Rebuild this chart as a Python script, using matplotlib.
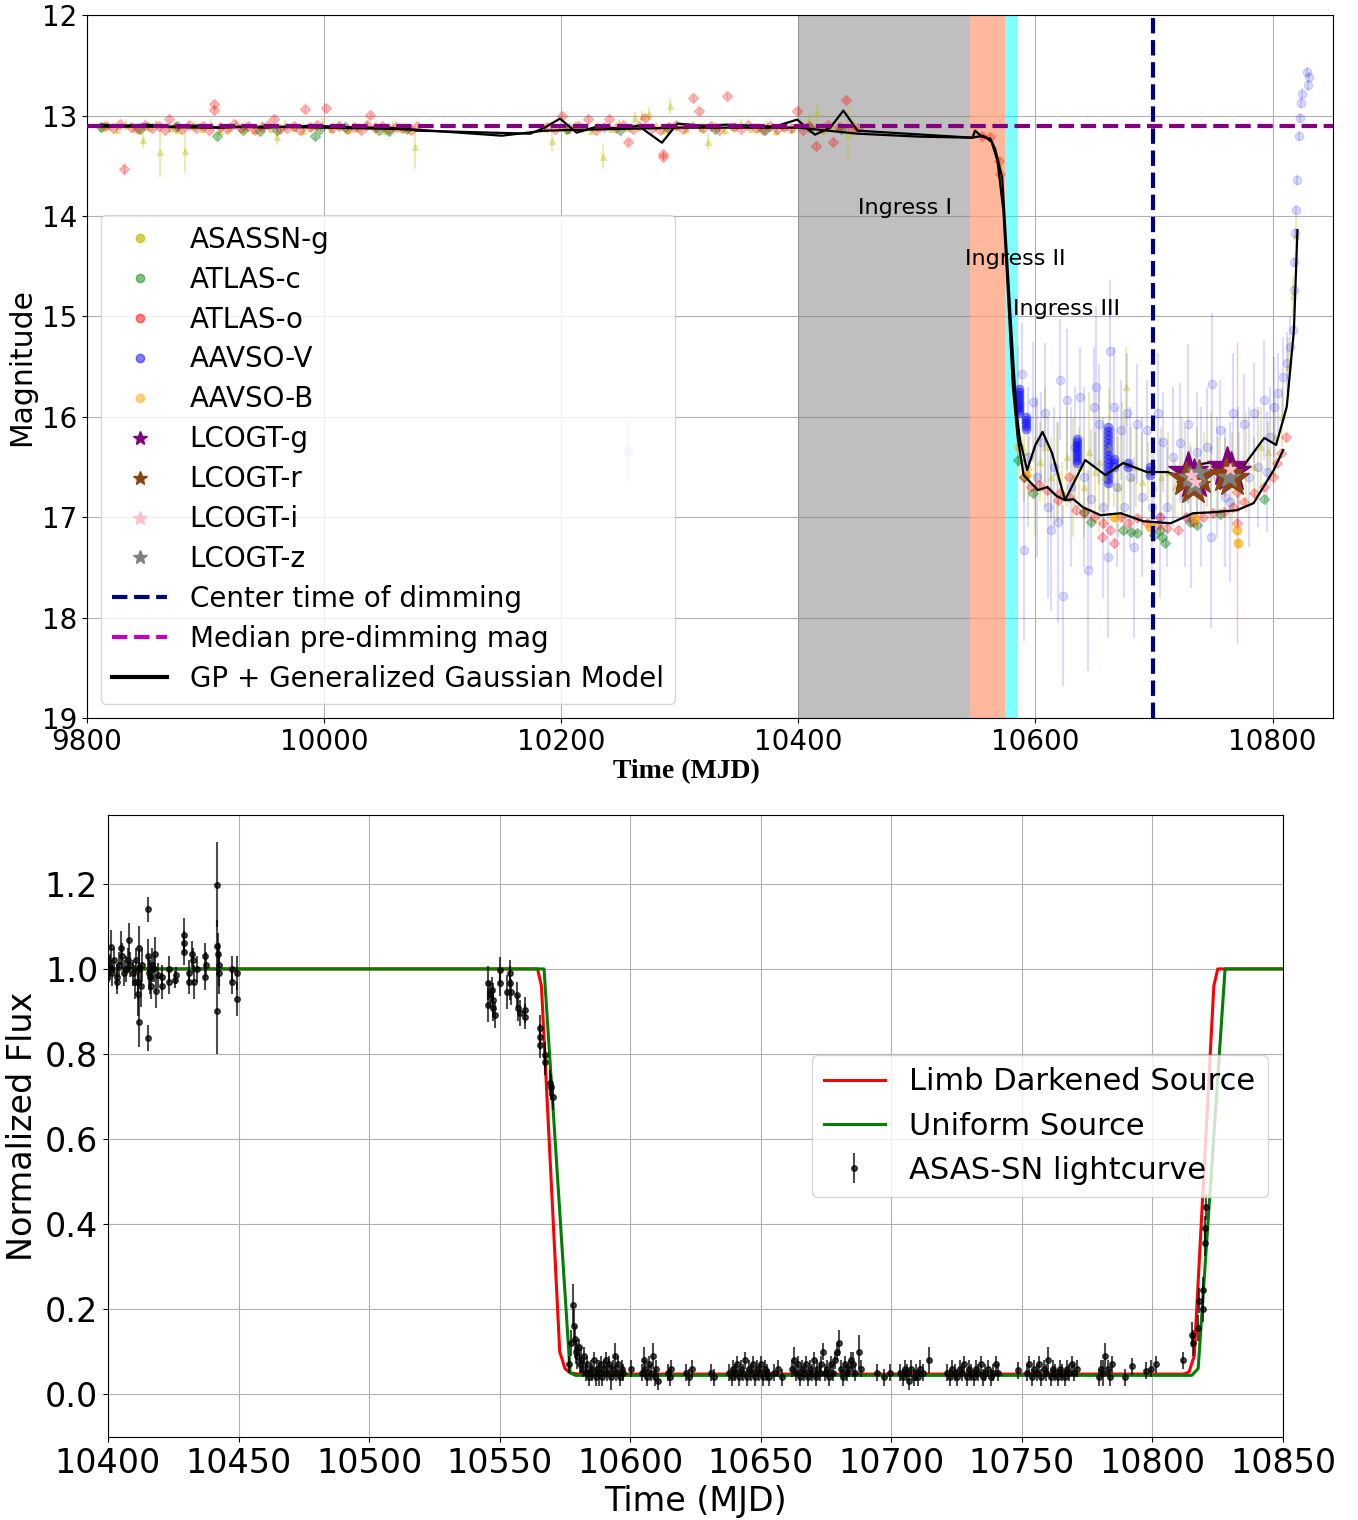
import numpy as np
import matplotlib.pyplot as plt
from matplotlib.lines import Line2D

# ---------------- top panel: photometry (MJD, mag, err) ----------------
asassn_g = [
    (9812, 13.12, 0.04), (9818, 13.10, 0.05), (9825, 13.14, 0.04), (9833, 13.09, 0.06), (9840, 13.13, 0.04),
    (9847, 13.24, 0.08), (9852, 13.11, 0.05), (9858, 13.08, 0.04), (9862, 13.36, 0.25), (9870, 13.12, 0.05),
    (9877, 13.14, 0.04), (9883, 13.35, 0.22), (9890, 13.10, 0.05), (9897, 13.13, 0.04), (9905, 13.09, 0.06),
    (9912, 13.15, 0.04), (9920, 13.12, 0.05), (9926, 13.08, 0.04), (9933, 13.11, 0.06), (9941, 13.14, 0.04),
    (9948, 13.10, 0.05), (9955, 13.13, 0.04), (9960, 13.21, 0.08), (9967, 13.09, 0.05), (9975, 13.12, 0.04),
    (9982, 13.15, 0.05), (9990, 13.11, 0.04), (9998, 13.08, 0.06), (10006, 13.13, 0.04), (10013, 13.10, 0.05),
    (10021, 13.14, 0.04), (10029, 13.12, 0.05), (10036, 13.09, 0.04), (10044, 13.11, 0.06), (10051, 13.15, 0.04),
    (10058, 13.10, 0.05), (10065, 13.13, 0.04), (10071, 13.12, 0.05), (10077, 13.31, 0.22),
    (10186, 13.12, 0.05), (10192, 13.25, 0.10), (10199, 13.10, 0.04), (10205, 13.14, 0.05), (10212, 13.09, 0.04),
    (10218, 13.12, 0.05), (10225, 13.15, 0.04), (10231, 13.11, 0.05), (10235, 13.41, 0.12), (10242, 13.13, 0.04),
    (10249, 13.08, 0.05), (10256, 13.12, 0.04), (10262, 13.02, 0.06), (10268, 13.00, 0.05), (10274, 12.98, 0.06),
    (10280, 13.10, 0.04), (10287, 13.14, 0.05), (10292, 12.90, 0.08), (10298, 13.11, 0.04), (10305, 13.13, 0.05),
    (10311, 13.09, 0.04), (10318, 13.12, 0.05), (10324, 13.26, 0.08), (10331, 13.10, 0.04), (10338, 13.14, 0.05),
    (10345, 13.11, 0.04), (10352, 13.08, 0.05), (10360, 13.13, 0.04), (10367, 13.12, 0.05), (10374, 13.10, 0.04),
    (10381, 13.15, 0.05), (10388, 13.11, 0.04), (10395, 13.13, 0.05), (10402, 13.09, 0.06), (10409, 13.05, 0.08),
    (10416, 12.97, 0.10), (10422, 13.14, 0.05), (10429, 13.12, 0.04), (10436, 13.10, 0.05), (10442, 13.18, 0.25),
    (10448, 13.11, 0.05),
    (10548, 13.16, 0.05), (10551, 13.17, 0.05), (10570, 13.50, 0.08),
    (10586, 16.20, 0.40), (10590, 16.35, 0.50), (10595, 16.50, 0.30), (10600, 16.70, 0.50), (10604, 16.45, 0.40),
    (10608, 16.30, 0.60), (10613, 16.60, 0.40), (10618, 16.55, 0.50), (10622, 16.75, 0.30), (10627, 16.40, 0.50),
    (10632, 16.60, 0.60), (10637, 16.50, 0.40), (10641, 16.70, 0.50), (10645, 16.35, 0.60), (10650, 16.55, 0.40),
    (10654, 16.45, 0.70), (10658, 16.60, 0.50), (10662, 16.30, 0.60), (10666, 16.50, 0.40), (10670, 16.70, 0.50),
    (10673, 16.45, 0.60), (10676, 15.70, 0.40), (10681, 16.60, 0.50), (10685, 16.50, 0.40), (10690, 16.65, 0.50),
    (10695, 16.55, 0.30), (10700, 16.70, 0.40), (10706, 16.60, 0.50), (10712, 16.55, 0.40), (10718, 16.70, 0.30),
    (10724, 16.50, 0.50), (10730, 16.65, 0.40), (10736, 16.60, 0.50), (10742, 16.55, 0.40), (10748, 16.45, 0.50),
    (10754, 16.60, 0.40), (10760, 16.50, 0.30), (10766, 16.65, 0.50), (10772, 16.55, 0.40), (10778, 16.45, 0.50),
    (10784, 16.50, 0.30), (10790, 16.30, 0.40), (10796, 16.35, 0.30), (10802, 16.20, 0.40), (10808, 16.00, 0.30),
    (10813, 15.50, 0.30), (10817, 14.80, 0.20), (10820, 14.20, 0.20),
]

atlas_c = [
    (9812, 13.11, 0.02), (9845, 13.13, 0.02), (9876, 13.10, 0.02), (9910, 13.20, 0.03), (9932, 13.14, 0.02),
    (9946, 13.15, 0.02), (9960, 13.14, 0.02), (9992, 13.20, 0.03), (9997, 13.13, 0.02), (10018, 13.11, 0.02),
    (10046, 13.14, 0.02), (10055, 13.15, 0.02), (10070, 13.13, 0.02), (10205, 13.13, 0.02), (10250, 13.14, 0.02),
    (10290, 13.12, 0.02), (10330, 13.13, 0.02), (10372, 13.14, 0.02), (10410, 13.12, 0.02), (10436, 13.13, 0.02),
    (10585, 16.43, 0.03), (10590, 16.60, 0.03), (10598, 16.76, 0.03), (10641, 16.95, 0.03), (10647, 17.05, 0.03),
    (10674, 17.13, 0.03), (10681, 17.15, 0.03), (10686, 17.16, 0.03), (10700, 17.18, 0.03), (10705, 17.13, 0.03),
    (10707, 17.20, 0.03), (10709, 17.26, 0.03), (10730, 17.05, 0.03), (10736, 17.08, 0.03), (10756, 16.97, 0.03),
    (10793, 16.82, 0.03),
]

atlas_o = [
    (9815, 13.10, 0.02), (9822, 13.12, 0.02), (9828, 13.08, 0.02), (9831, 13.53, 0.05), (9837, 13.11, 0.02),
    (9843, 13.13, 0.02), (9849, 13.09, 0.02), (9855, 13.12, 0.02), (9861, 13.10, 0.02), (9866, 13.14, 0.02),
    (9869, 13.03, 0.03), (9874, 13.11, 0.02), (9880, 13.13, 0.02), (9886, 13.09, 0.02), (9892, 13.12, 0.02),
    (9898, 13.10, 0.02), (9903, 13.14, 0.02), (9907, 12.88, 0.03), (9907, 12.94, 0.03), (9912, 13.11, 0.02),
    (9918, 13.13, 0.02), (9924, 13.08, 0.02), (9930, 13.12, 0.02), (9936, 13.10, 0.02), (9942, 13.14, 0.02),
    (9948, 13.11, 0.02), (9953, 13.09, 0.02), (9958, 13.03, 0.03), (9963, 13.13, 0.02), (9969, 13.12, 0.02),
    (9975, 13.10, 0.02), (9980, 13.14, 0.02), (9984, 12.93, 0.03), (9988, 13.11, 0.02), (9994, 13.09, 0.02),
    (10002, 12.92, 0.03), (10007, 13.12, 0.02), (10013, 13.10, 0.02), (10019, 13.13, 0.02), (10025, 13.11, 0.02),
    (10031, 13.14, 0.02), (10036, 13.09, 0.02), (10039, 12.99, 0.03), (10043, 13.12, 0.02), (10049, 13.10, 0.02),
    (10055, 13.13, 0.02), (10061, 13.11, 0.02), (10067, 13.12, 0.02), (10073, 13.14, 0.02), (10078, 13.10, 0.02),
    (10188, 13.11, 0.02), (10195, 13.13, 0.02), (10201, 13.00, 0.03), (10207, 13.12, 0.02), (10214, 13.10, 0.02),
    (10223, 13.03, 0.03), (10229, 13.14, 0.02), (10236, 13.11, 0.02), (10240, 13.03, 0.03), (10246, 13.12, 0.02),
    (10252, 13.09, 0.02), (10256, 13.26, 0.03), (10261, 13.13, 0.02), (10266, 13.10, 0.02), (10271, 13.02, 0.03),
    (10277, 13.12, 0.02), (10283, 13.14, 0.02), (10286, 13.38, 0.03), (10286, 13.41, 0.03), (10291, 13.11, 0.02),
    (10297, 13.09, 0.02), (10303, 13.13, 0.02), (10311, 12.82, 0.03), (10316, 12.95, 0.03), (10320, 13.12, 0.02),
    (10326, 13.10, 0.02), (10333, 13.14, 0.02), (10340, 12.80, 0.03), (10346, 13.11, 0.02), (10352, 13.13, 0.02),
    (10358, 13.09, 0.02), (10364, 13.12, 0.02), (10370, 13.14, 0.02), (10376, 13.10, 0.02), (10382, 13.13, 0.02),
    (10388, 13.11, 0.02), (10394, 13.12, 0.02), (10399, 12.95, 0.03), (10404, 13.14, 0.02), (10409, 13.10, 0.02),
    (10415, 13.30, 0.03), (10420, 13.12, 0.02), (10425, 13.09, 0.02), (10429, 13.26, 0.03), (10434, 13.11, 0.02),
    (10440, 12.84, 0.03), (10445, 13.13, 0.02), (10450, 13.12, 0.02),
    (10555, 13.20, 0.03), (10562, 13.21, 0.03), (10569, 13.45, 0.03), (10570, 13.58, 0.03),
    (10590, 16.60, 0.04), (10596, 16.70, 0.04), (10603, 16.68, 0.04), (10610, 16.73, 0.04), (10619, 16.83, 0.04),
    (10621, 16.76, 0.04), (10628, 16.80, 0.04), (10628, 16.60, 0.04), (10634, 16.93, 0.04), (10641, 16.96, 0.04),
    (10649, 17.00, 0.04), (10656, 17.20, 0.05), (10657, 17.06, 0.04), (10663, 17.13, 0.04), (10666, 17.26, 0.05),
    (10672, 17.00, 0.04), (10678, 17.06, 0.04), (10686, 17.01, 0.04), (10694, 17.06, 0.04), (10703, 17.08, 0.04),
    (10705, 17.00, 0.04), (10711, 17.11, 0.04), (10720, 17.13, 0.04), (10727, 17.00, 0.04), (10733, 17.05, 0.04),
    (10741, 17.00, 0.04), (10750, 16.96, 0.04), (10759, 16.95, 0.04), (10767, 16.90, 0.04), (10770, 16.75, 1.50),
    (10770, 17.06, 0.04), (10776, 16.85, 0.04), (10784, 16.76, 0.04), (10793, 16.70, 0.04), (10800, 16.60, 0.04),
    (10804, 16.46, 0.04), (10807, 16.36, 0.04), (10811, 16.20, 0.04),
]

aavso_v = [
    (10256, 16.34, 0.30),
    (10585, 15.90, 0.60), (10589, 15.57, 0.50), (10590, 17.33, 0.90), (10594, 16.40, 0.70), (10598, 15.85, 0.60),
    (10601, 16.60, 0.80), (10605, 16.25, 0.50), (10608, 15.96, 0.70), (10611, 16.90, 0.90), (10613, 17.13, 0.80),
    (10616, 16.50, 0.60), (10619, 17.05, 1.00), (10621, 15.63, 0.60), (10623, 17.78, 0.90), (10627, 15.83, 0.70),
    (10630, 16.70, 0.80), (10633, 16.30, 0.60), (10638, 15.80, 0.50), (10641, 16.60, 0.90), (10644, 17.53, 1.00),
    (10647, 16.82, 0.70), (10649, 15.90, 0.60), (10651, 15.70, 0.80), (10654, 16.07, 0.60), (10657, 16.90, 0.90),
    (10661, 17.40, 0.80), (10663, 15.34, 0.70), (10666, 15.90, 0.60), (10669, 16.70, 0.80), (10672, 16.13, 0.50),
    (10675, 16.90, 0.90), (10677, 15.96, 0.60), (10680, 16.60, 0.70), (10683, 17.30, 0.90), (10686, 16.07, 0.60),
    (10690, 16.80, 0.80), (10694, 16.13, 0.50), (10698, 16.90, 0.70), (10703, 15.96, 0.60), (10705, 17.00, 0.80),
    (10708, 16.25, 0.50), (10711, 16.90, 0.60), (10716, 16.40, 0.70), (10722, 16.26, 0.60), (10726, 16.80, 0.70),
    (10729, 16.07, 0.80), (10731, 17.00, 0.70), (10736, 16.35, 0.60), (10740, 16.70, 0.80), (10745, 16.30, 0.60),
    (10748, 17.20, 0.90), (10749, 15.67, 0.70), (10753, 16.60, 0.60), (10756, 16.13, 0.50), (10760, 16.80, 0.70),
    (10764, 16.85, 0.80), (10767, 15.96, 0.60), (10771, 16.50, 0.60), (10776, 16.07, 0.50), (10780, 16.60, 0.70),
    (10784, 15.96, 0.50), (10788, 16.50, 0.60), (10793, 15.83, 0.60), (10795, 16.55, 0.60), (10798, 16.20, 0.50),
    (10801, 15.90, 0.50), (10805, 15.76, 0.40), (10809, 15.60, 0.40), (10812, 15.46, 0.30), (10815, 15.30, 0.30),
    (10817, 15.14, 0.05), (10818, 14.74, 0.05), (10818.5, 14.46, 0.05), (10819, 14.17, 0.05), (10820, 13.94, 0.05),
    (10821, 13.64, 0.05), (10822, 13.20, 0.05), (10823, 13.02, 0.05), (10824, 12.87, 0.05), (10825, 12.78, 0.05),
    (10829, 12.57, 0.05), (10830, 12.70, 0.05), (10831, 12.62, 0.05),
]

# nights with many stacked AAVSO-V exposures
aavso_v_dense = [
    (10586, 15.72), (10586, 15.75), (10586, 15.78), (10586, 15.81), (10586, 15.84), (10586, 15.87),
    (10586, 15.90), (10586, 15.93), (10586, 15.96),
    (10592, 16.00), (10592, 16.03), (10592, 16.06), (10592, 16.09), (10592, 16.12),
    (10635, 16.22), (10635, 16.25), (10635, 16.28), (10635, 16.31), (10635, 16.34), (10635, 16.37),
    (10635, 16.40), (10635, 16.43), (10635, 16.46),
    (10661, 16.10), (10661, 16.14), (10661, 16.18), (10661, 16.22), (10661, 16.26), (10661, 16.30),
    (10661, 16.34), (10661, 16.38), (10661, 16.42), (10661, 16.46), (10661, 16.50), (10661, 16.54),
    (10661, 16.58), (10661, 16.62), (10661, 16.66),
    (10666, 16.42), (10666, 16.46), (10666, 16.50), (10678, 16.46), (10678, 16.50),
    (10697, 16.50), (10697, 16.54), (10697, 16.58),
]

aavso_b = [
    (10586, 16.30, 0.05), (10592, 16.58, 0.05), (10666, 17.00, 0.05), (10697, 17.10, 0.05),
    (10735, 17.01, 0.05), (10770, 17.13, 0.05), (10771, 17.26, 0.05),
]

lco_g = [(10729, 16.55), (10734, 16.62), (10762, 16.50), (10765, 16.55)]
lco_r = [(10727, 16.62), (10733, 16.70), (10738, 16.60), (10761, 16.58), (10766, 16.62)]
lco_i = [(10731, 16.58), (10735, 16.65), (10764, 16.52)]
lco_z = [(10730, 16.60), (10734, 16.68), (10737, 16.55), (10763, 16.60)]

gp_upper = [
    (9812, 13.09), (9830, 13.10), (9850, 13.09), (9870, 13.11), (9890, 13.10), (9910, 13.12), (9930, 13.11),
    (9950, 13.12), (9970, 13.11), (9990, 13.10), (10010, 13.11), (10030, 13.12), (10050, 13.12), (10070, 13.13),
    (10078, 13.15), (10174, 13.18), (10186, 13.12), (10199, 13.03), (10213, 13.17), (10230, 13.11), (10250, 13.13),
    (10265, 13.10), (10285, 13.27), (10298, 13.08), (10320, 13.10), (10340, 13.09), (10360, 13.10), (10380, 13.11),
    (10399, 13.04), (10414, 13.19), (10427, 13.12), (10438, 12.95), (10450, 13.15), (10547, 13.22), (10549, 13.15),
    (10555, 13.21), (10562, 13.23), (10566, 13.33), (10572, 13.62), (10576, 14.41), (10580, 15.20), (10584, 15.95),
    (10587, 16.23), (10593, 16.53), (10600, 16.28), (10606, 16.15), (10614, 16.36), (10625, 16.83), (10642, 16.43),
    (10659, 16.58), (10674, 16.46), (10694, 16.55), (10711, 16.55), (10725, 16.60), (10740, 16.47), (10750, 16.45),
    (10760, 16.50), (10773, 16.53), (10793, 16.21), (10803, 16.28), (10812, 15.90), (10818, 15.14), (10821, 14.14),
]
gp_lower = [
    (9812, 13.11), (9850, 13.11), (9900, 13.12), (9950, 13.11), (10000, 13.12), (10050, 13.13), (10078, 13.14),
    (10150, 13.20), (10186, 13.15), (10220, 13.14), (10260, 13.13), (10300, 13.12), (10350, 13.12), (10400, 13.12),
    (10450, 13.18), (10503, 13.21), (10547, 13.22), (10556, 13.20), (10563, 13.26), (10568, 13.45), (10573, 13.95),
    (10577, 14.80), (10581, 15.70), (10585, 16.20), (10590, 16.58), (10602, 16.73), (10610, 16.70), (10618, 16.79),
    (10625, 16.83), (10632, 16.82), (10640, 16.90), (10655, 16.98), (10672, 16.96), (10691, 17.04), (10714, 17.06),
    (10733, 16.96), (10750, 16.95), (10770, 16.93), (10784, 16.86), (10801, 16.53), (10809, 16.33),
]

t_center = 10699
median_mag = 13.1
ingress_edges = [10400, 10545, 10574, 10585]
ingress_labels = [("Ingress I", 10450, 13.92), ("Ingress II", 10541, 14.43), ("Ingress III", 10581, 14.93)]

# ---------------- bottom panel: ASAS-SN normalized flux ----------------
asassn_flux = [
    (10400.5, 1.000, 0.03), (10400.8, 1.005, 0.03), (10401.3, 1.052, 0.04), (10401.6, 0.990, 0.03), (10402.2, 1.020, 0.03),
    (10403.3, 0.982, 0.03), (10403.6, 0.970, 0.03), (10404.2, 1.010, 0.03), (10405.0, 1.050, 0.04), (10405.3, 1.030, 0.03),
    (10406.0, 0.990, 0.03), (10406.8, 1.000, 0.03), (10407.5, 1.020, 0.03), (10408.0, 1.068, 0.04), (10408.3, 1.010, 0.03),
    (10409.5, 0.990, 0.03), (10410.2, 0.970, 0.04), (10410.8, 1.020, 0.03), (10411.4, 0.970, 0.04), (10411.4, 0.940, 0.05),
    (10411.8, 1.000, 0.04), (10412.0, 1.050, 0.05), (10412.0, 0.876, 0.06), (10412.6, 0.960, 0.05), (10413.2, 1.010, 0.04),
    (10415.3, 1.140, 0.03), (10415.3, 0.838, 0.03), (10415.5, 1.030, 0.04), (10415.8, 0.990, 0.04), (10416.0, 0.980, 0.04),
    (10416.5, 0.960, 0.03), (10417.0, 1.010, 0.04), (10417.5, 1.000, 0.03), (10418.0, 1.035, 0.04), (10418.5, 0.948, 0.04),
    (10419.0, 0.985, 0.03), (10420.7, 0.980, 0.03), (10420.7, 0.960, 0.03), (10423.3, 1.000, 0.03), (10423.3, 0.970, 0.03),
    (10425.8, 0.975, 0.02), (10426.2, 0.985, 0.02), (10429.0, 1.080, 0.04), (10429.0, 1.040, 0.03), (10429.3, 1.060, 0.03),
    (10431.0, 0.990, 0.03), (10431.0, 0.970, 0.03), (10432.0, 1.035, 0.03), (10432.5, 1.020, 0.03), (10433.0, 0.970, 0.04),
    (10434.0, 1.000, 0.03), (10437.0, 1.030, 0.03), (10437.0, 0.980, 0.03), (10437.5, 1.010, 0.03), (10441.8, 1.198, 0.10),
    (10441.8, 0.900, 0.10), (10441.8, 1.055, 0.06), (10442.2, 1.035, 0.05), (10442.4, 1.010, 0.05), (10442.6, 0.990, 0.05),
    (10447.4, 1.000, 0.03), (10447.4, 0.970, 0.03), (10449.4, 0.990, 0.04), (10449.4, 0.930, 0.04),
    (10545.7, 0.967, 0.04), (10545.7, 0.915, 0.04), (10546.2, 0.940, 0.03), (10547.0, 0.950, 0.03), (10547.6, 0.927, 0.04),
    (10547.6, 0.908, 0.03), (10548.3, 0.892, 0.03), (10550.2, 0.998, 0.03), (10550.2, 0.967, 0.03), (10552.8, 0.946, 0.04),
    (10554.0, 0.990, 0.03), (10554.0, 0.967, 0.04), (10554.4, 0.946, 0.03), (10556.5, 0.939, 0.03), (10557.1, 0.908, 0.03),
    (10557.8, 0.896, 0.03), (10559.7, 0.903, 0.03), (10559.7, 0.888, 0.03), (10565.4, 0.861, 0.03), (10565.4, 0.840, 0.03),
    (10565.6, 0.821, 0.03), (10567.5, 0.798, 0.03), (10567.5, 0.781, 0.03), (10569.2, 0.732, 0.03), (10569.8, 0.722, 0.03),
    (10570.5, 0.699, 0.03),
    (10576.5, 0.07, 0.02), (10577.2, 0.12, 0.03), (10578.1, 0.21, 0.05), (10578.6, 0.16, 0.04), (10579.0, 0.13, 0.03),
    (10579.4, 0.10, 0.03), (10579.8, 0.09, 0.03), (10580.3, 0.11, 0.02), (10580.8, 0.07, 0.02), (10581.3, 0.08, 0.03),
    (10581.9, 0.06, 0.02), (10582.4, 0.09, 0.02), (10583.0, 0.05, 0.02), (10583.6, 0.07, 0.02), (10584.2, 0.04, 0.02),
    (10584.8, 0.06, 0.02), (10585.5, 0.05, 0.02), (10586.1, 0.08, 0.02), (10586.8, 0.04, 0.02), (10587.4, 0.06, 0.02),
    (10588.0, 0.05, 0.03), (10588.7, 0.07, 0.02), (10589.3, 0.04, 0.02), (10590.0, 0.06, 0.02), (10590.6, 0.08, 0.02),
    (10591.3, 0.05, 0.02), (10592.0, 0.07, 0.02), (10592.6, 0.04, 0.03), (10593.3, 0.06, 0.02), (10594.0, 0.09, 0.03),
    (10594.6, 0.05, 0.02), (10595.3, 0.07, 0.02), (10596.0, 0.04, 0.02), (10596.7, 0.06, 0.02), (10597.4, 0.05, 0.02),
    (10600.2, 0.06, 0.02),
    (10604.5, 0.05, 0.02), (10605.2, 0.08, 0.03), (10605.8, 0.06, 0.02), (10606.5, 0.04, 0.02), (10607.2, 0.07, 0.02),
    (10607.9, 0.05, 0.02), (10608.6, 0.09, 0.03), (10609.3, 0.04, 0.02), (10610.0, 0.06, 0.02), (10610.8, 0.03, 0.02),
    (10614.5, 0.05, 0.02), (10615.2, 0.04, 0.02), (10615.8, 0.06, 0.02),
    (10621.5, 0.05, 0.02), (10622.5, 0.04, 0.02), (10623.6, 0.06, 0.02), (10631.0, 0.05, 0.02), (10632.0, 0.04, 0.02),
    (10638.0, 0.05, 0.02), (10638.8, 0.04, 0.02), (10639.5, 0.06, 0.02), (10640.2, 0.05, 0.02), (10641.0, 0.07, 0.02),
    (10641.7, 0.04, 0.02), (10642.5, 0.06, 0.02), (10643.2, 0.05, 0.02), (10644.0, 0.08, 0.02), (10644.8, 0.04, 0.02),
    (10645.5, 0.06, 0.02), (10646.2, 0.05, 0.02), (10647.0, 0.07, 0.02), (10647.8, 0.04, 0.02), (10648.5, 0.06, 0.02),
    (10649.3, 0.05, 0.02), (10650.0, 0.07, 0.02), (10650.8, 0.04, 0.02), (10651.5, 0.06, 0.02), (10652.3, 0.05, 0.02),
    (10653.0, 0.04, 0.02), (10655.0, 0.05, 0.02), (10656.5, 0.06, 0.02), (10658.0, 0.04, 0.02),
    (10662.0, 0.06, 0.02), (10662.8, 0.08, 0.03), (10663.5, 0.05, 0.02), (10664.2, 0.07, 0.02), (10665.0, 0.04, 0.02),
    (10665.7, 0.06, 0.02), (10666.5, 0.05, 0.02), (10667.2, 0.07, 0.02), (10668.0, 0.04, 0.02), (10668.7, 0.06, 0.02),
    (10669.5, 0.05, 0.02), (10670.2, 0.08, 0.02), (10671.0, 0.04, 0.02), (10671.7, 0.06, 0.02), (10672.5, 0.05, 0.02),
    (10673.2, 0.07, 0.02), (10674.0, 0.10, 0.02), (10674.7, 0.05, 0.02), (10675.5, 0.06, 0.02), (10676.2, 0.04, 0.02),
    (10677.0, 0.07, 0.02), (10677.7, 0.05, 0.02), (10678.5, 0.08, 0.02), (10679.2, 0.10, 0.02), (10679.9, 0.12, 0.03),
    (10680.7, 0.06, 0.02), (10681.4, 0.04, 0.02), (10682.2, 0.07, 0.02), (10682.9, 0.05, 0.02), (10683.7, 0.06, 0.02),
    (10684.4, 0.08, 0.02), (10685.2, 0.07, 0.03), (10686.0, 0.05, 0.02), (10687.5, 0.10, 0.04), (10688.5, 0.06, 0.02),
    (10694.5, 0.05, 0.02), (10697.0, 0.04, 0.02), (10699.5, 0.05, 0.02),
    (10703.5, 0.05, 0.02), (10704.3, 0.04, 0.02), (10705.2, 0.06, 0.02), (10706.0, 0.05, 0.02), (10706.9, 0.03, 0.02),
    (10707.7, 0.06, 0.02), (10708.6, 0.04, 0.02), (10709.4, 0.05, 0.02), (10710.3, 0.04, 0.02), (10711.1, 0.06, 0.02),
    (10712.0, 0.05, 0.02), (10714.3, 0.08, 0.03),
    (10721.5, 0.05, 0.02), (10722.5, 0.04, 0.02), (10723.4, 0.06, 0.02), (10724.3, 0.05, 0.02), (10725.2, 0.04, 0.02),
    (10726.1, 0.06, 0.02), (10727.0, 0.05, 0.02), (10727.9, 0.07, 0.02), (10728.8, 0.04, 0.02), (10729.7, 0.06, 0.02),
    (10730.6, 0.05, 0.02), (10731.5, 0.04, 0.02), (10732.4, 0.06, 0.02), (10733.3, 0.05, 0.02), (10734.2, 0.07, 0.02),
    (10735.1, 0.04, 0.02), (10736.0, 0.05, 0.02), (10737.0, 0.06, 0.02), (10738.0, 0.04, 0.02), (10739.0, 0.05, 0.02),
    (10740.0, 0.07, 0.02), (10741.0, 0.05, 0.02), (10748.5, 0.056, 0.02),
    (10752.0, 0.05, 0.02), (10752.9, 0.07, 0.02), (10753.8, 0.04, 0.02), (10754.7, 0.06, 0.02), (10755.6, 0.05, 0.02),
    (10756.5, 0.07, 0.02), (10757.4, 0.04, 0.02), (10758.3, 0.06, 0.02), (10759.2, 0.05, 0.02), (10760.1, 0.08, 0.03),
    (10761.0, 0.04, 0.02), (10761.9, 0.06, 0.02), (10762.8, 0.05, 0.02), (10763.7, 0.04, 0.02), (10764.6, 0.06, 0.02),
    (10765.5, 0.05, 0.02), (10766.4, 0.04, 0.02), (10767.3, 0.06, 0.02), (10768.2, 0.05, 0.02), (10769.1, 0.07, 0.02),
    (10770.0, 0.05, 0.02), (10771.0, 0.06, 0.02),
    (10779.5, 0.04, 0.02), (10780.3, 0.06, 0.02), (10781.2, 0.05, 0.03), (10782.0, 0.09, 0.03), (10782.8, 0.06, 0.02),
    (10783.6, 0.04, 0.02), (10784.5, 0.07, 0.02), (10789.5, 0.04, 0.02), (10792.0, 0.065, 0.02), (10797.5, 0.055, 0.02),
    (10799.5, 0.06, 0.02), (10801.5, 0.07, 0.02),
    (10811.7, 0.08, 0.02), (10815.0, 0.14, 0.03), (10815.5, 0.12, 0.03), (10817.5, 0.155, 0.03), (10818.0, 0.22, 0.03),
    (10819.4, 0.245, 0.03), (10819.4, 0.20, 0.03), (10820.0, 0.355, 0.03), (10820.0, 0.39, 0.03), (10820.5, 0.44, 0.03),
]

limb_model = [
    (10400, 1.0), (10564.5, 1.0), (10566, 0.96), (10573, 0.10), (10575, 0.06), (10577, 0.05), (10580, 0.047),
    (10812, 0.047), (10814, 0.052), (10816, 0.09), (10823.5, 0.96), (10825, 1.0), (10850, 1.0),
]
uniform_model = [
    (10400, 1.0), (10567, 1.0), (10577, 0.05), (10579, 0.044), (10815, 0.044), (10817.5, 0.06),
    (10827.8, 1.0), (10850, 1.0),
]


def cols(rows):
    return [np.array(c) for c in zip(*rows)]


fig = plt.figure(figsize=(13.58, 15.2), dpi=100)

# ======================= top panel =======================
ax = fig.add_axes([0.064, 0.5276, 0.9176, 0.4624])
ax.set_axisbelow(True)
ax.grid(True, color='#b0b0b0', lw=0.8)

ax.axvspan(ingress_edges[0], ingress_edges[1], color='gray', alpha=0.5, lw=0)
ax.axvspan(ingress_edges[1], ingress_edges[2], color='lightsalmon', alpha=0.75, lw=0)
ax.axvspan(ingress_edges[2], ingress_edges[3], color='cyan', alpha=0.5, lw=0)

t, m, e = cols(asassn_g)
ax.errorbar(t, m, yerr=e, fmt='^', color='y', alpha=0.3, ms=5, elinewidth=1.5, zorder=2)
t, m, e = cols(atlas_c)
ax.errorbar(t, m, yerr=e, fmt='D', color='g', alpha=0.35, ms=5, elinewidth=1, zorder=2)
t, m, e = cols(atlas_o)
ax.errorbar(t, m, yerr=e, fmt='D', color='r', alpha=0.25, ms=5, elinewidth=1, zorder=2)
t, m, e = cols(aavso_v)
ax.errorbar(t, m, yerr=e, fmt='o', color='b', alpha=0.14, ms=6, elinewidth=1.5, zorder=2)
t, m = cols(aavso_v_dense)
ax.plot(t, m, 'o', color='b', alpha=0.45, ms=7, mew=0, zorder=2)
t, m, e = cols(aavso_b)
ax.errorbar(t, m, yerr=e, fmt='o', color='orange', alpha=0.6, ms=6, elinewidth=1, zorder=2)

t, m = cols(gp_lower)
ax.plot(t, m, color='k', lw=1.6, zorder=3)
t, m = cols(gp_upper)
ax.plot(t, m, color='k', lw=1.6, zorder=3)

t, m = cols(lco_g)
ax.plot(t, m, '*', color='purple', ms=30, zorder=4)
t, m = cols(lco_r)
ax.plot(t, m, '*', color='saddlebrown', ms=26, zorder=5)
t, m = cols(lco_z)
ax.plot(t, m, '*', color='gray', ms=16, zorder=6)
t, m = cols(lco_i)
ax.plot(t, m, '*', color='pink', ms=9, zorder=7)

ax.axhline(median_mag, color='purple', ls='--', lw=3, zorder=3)
ax.axvline(t_center, color='navy', ls='--', lw=3, zorder=3)

for txt, tx, ty in ingress_labels:
    ax.text(tx, ty, txt, fontsize=16, ha='left', va='center')

ax.set_xlim(9800, 10851)
ax.set_ylim(19, 12)
ax.set_xticks([9800, 10000, 10200, 10400, 10600, 10800])
ax.set_yticks(range(12, 20))
ax.tick_params(labelsize=20)
ax.set_ylabel('Magnitude', fontsize=21.5)
ax.set_xlabel('Time (MJD)', fontsize=20, fontweight='bold', family='Liberation Serif')
ax.xaxis.set_label_coords(0.481, -0.058)

handles = [
    Line2D([], [], ls='', marker='o', color='y', alpha=0.7, ms=6),
    Line2D([], [], ls='', marker='o', color='g', alpha=0.5, ms=6),
    Line2D([], [], ls='', marker='o', color='r', alpha=0.5, ms=6),
    Line2D([], [], ls='', marker='o', color='b', alpha=0.5, ms=6),
    Line2D([], [], ls='', marker='o', color='orange', alpha=0.5, ms=6),
    Line2D([], [], ls='', marker='*', color='purple', ms=10),
    Line2D([], [], ls='', marker='*', color='saddlebrown', ms=10),
    Line2D([], [], ls='', marker='*', color='pink', ms=10),
    Line2D([], [], ls='', marker='*', color='gray', ms=10),
    Line2D([], [], ls='--', color='navy', lw=3),
    Line2D([], [], ls='--', color='m', lw=3),
    Line2D([], [], ls='-', color='k', lw=3),
]
labels = ['ASASSN-g', 'ATLAS-c', 'ATLAS-o', 'AAVSO-V', 'AAVSO-B', 'LCOGT-g', 'LCOGT-r',
          'LCOGT-i', 'LCOGT-z', 'Center time of dimming', 'Median pre-dimming mag',
          'GP + Generalized Gaussian Model']
ax.legend(handles, labels, loc='lower left', fontsize=20, labelspacing=0.43)

# ======================= bottom panel =======================
bx = fig.add_axes([0.0795, 0.0546, 0.8653, 0.4092])
bx.grid(True, color='#b0b0b0', lw=0.8)

t, f = cols(limb_model)
bx.plot(t, f, color='red', lw=2.2, label='Limb Darkened Source')
t, f = cols(uniform_model)
bx.plot(t, f, color='green', lw=2.2, label='Uniform Source')
t, f, e = cols(asassn_flux)
bx.errorbar(t, f, yerr=e, fmt='o', color='k', ms=4, alpha=0.7, elinewidth=1.5,
            label='ASAS-SN lightcurve')

bx.set_xlim(10400, 10850)
bx.set_ylim(-0.101, 1.362)
bx.set_xticks(range(10400, 10851, 50))
bx.set_yticks([0.0, 0.2, 0.4, 0.6, 0.8, 1.0, 1.2])
bx.tick_params(labelsize=24)
bx.set_xlabel('Time (MJD)', fontsize=24)
bx.set_ylabel('Normalized Flux', fontsize=24)
bx.legend(loc='center right', fontsize=22)

fig.savefig('out.png', dpi=100)
